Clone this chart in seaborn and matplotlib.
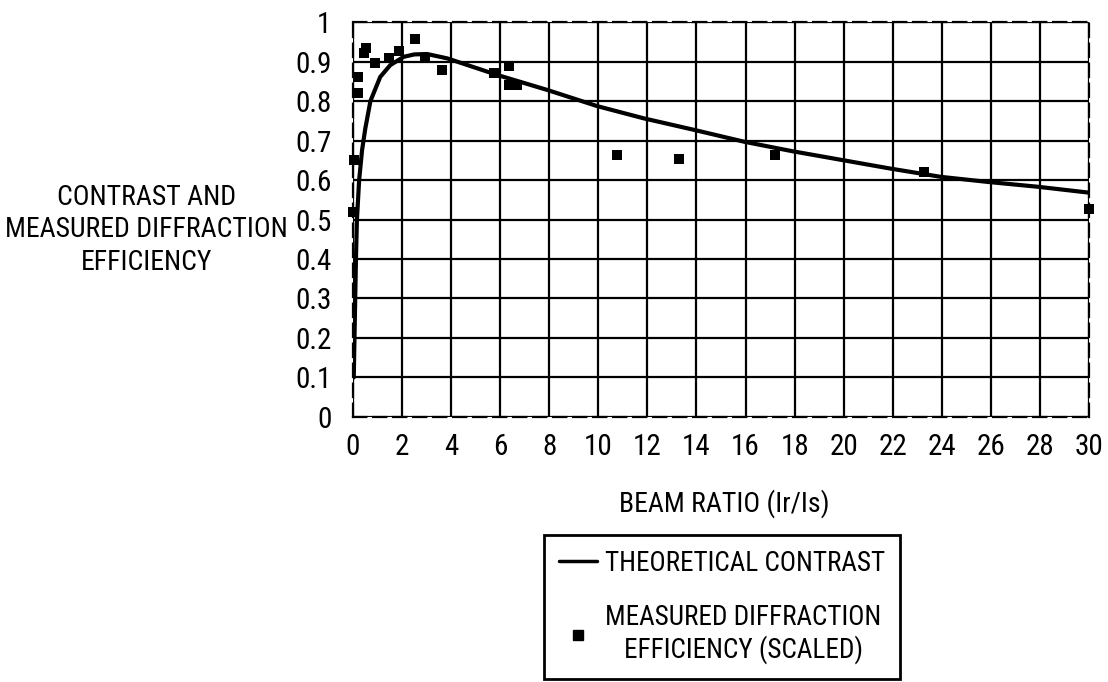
import matplotlib
matplotlib.use("Agg")
import matplotlib.pyplot as plt
import seaborn as sns
import pandas as pd
from matplotlib.lines import Line2D

sns.set_style("white")
plt.rcParams['font.family'] = ['Roboto Condensed', 'DejaVu Sans']
plt.rcParams['font.size'] = 21
plt.rcParams['text.color'] = 'black'
plt.rcParams['xtick.color'] = 'black'
plt.rcParams['ytick.color'] = 'black'

# theoretical contrast curve
curve_x = [0.03, 0.06, 0.09, 0.12, 0.16, 0.25, 0.37, 0.5, 0.71, 1.11, 1.52, 2.07, 2.5, 3.02,
           3.84, 5.88, 7.92, 9.96, 11.86, 13.9, 15.94, 17.9, 19.9, 21.9, 23.96, 25.9, 27.9, 30.0]
curve_y = [0.10, 0.20, 0.30, 0.40, 0.50, 0.60, 0.676, 0.73, 0.80, 0.861, 0.891, 0.912, 0.918, 0.919,
           0.908, 0.866, 0.828, 0.787, 0.756, 0.727, 0.697, 0.673, 0.651, 0.629, 0.608, 0.595, 0.583, 0.568]

# measured diffraction efficiency (scaled)
meas_x = [0.0, 0.05, 0.2, 0.2, 0.43, 0.54, 0.88, 1.45, 1.89, 2.54, 2.95, 3.63, 5.74, 6.35, 6.35,
          6.7, 10.75, 13.29, 17.2, 23.29, 30.0]
meas_y = [0.52, 0.651, 0.821, 0.861, 0.922, 0.933, 0.897, 0.91, 0.927, 0.956, 0.908, 0.878, 0.87,
          0.889, 0.84, 0.84, 0.663, 0.652, 0.663, 0.62, 0.526]

x_ticks = list(range(0, 31, 2))
y_ticks = [0, 0.1, 0.2, 0.3, 0.4, 0.5, 0.6, 0.7, 0.8, 0.9, 1]
y_tick_labels = ["0", "0.1", "0.2", "0.3", "0.4", "0.5", "0.6", "0.7", "0.8", "0.9", "1"]

curve = pd.DataFrame({"ratio": curve_x, "value": curve_y})
meas = pd.DataFrame({"ratio": meas_x, "value": meas_y})

fig = plt.figure(figsize=(11.08, 6.82), dpi=100)
ax = fig.add_axes([0.3186, 0.3886, 0.6642, 0.5791])

sns.lineplot(data=curve, x="ratio", y="value", color="black", linewidth=3, ax=ax, zorder=3)
sns.scatterplot(data=meas, x="ratio", y="value", color="black", marker="s", s=60,
                edgecolor="black", linewidth=0, ax=ax, zorder=4, clip_on=False)

ax.set_xlim(0, 30)
ax.set_ylim(0, 1)
ax.set_xticks(x_ticks)
ax.set_yticks(y_ticks)
ax.set_yticklabels(y_tick_labels)
ax.set_xlabel("")
ax.set_ylabel("")
ax.grid(True, color="black", linewidth=1.6)
ax.tick_params(direction="inout", length=9, width=1.5, colors="black", labelsize=21)
ax.tick_params(axis="y", pad=11)
ax.tick_params(axis="x", pad=7)
for s in ax.spines.values():
    s.set_linestyle((0, (6, 3)))
    s.set_linewidth(1.6)
    s.set_color("black")
    s.set_zorder(5)

fig.text(0.132, 0.663, "CONTRAST AND\nMEASURED DIFFRACTION\nEFFICIENCY", ha="center", va="center",
         multialignment="center", fontsize=20, linespacing=1.25)
fig.text(0.654, 0.262, "BEAM RATIO (Ir/Is)", ha="center", va="center", fontsize=20)

handles = [Line2D([0], [0], color="black", linewidth=2.5),
           Line2D([0], [0], color="black", marker="s", markersize=7, linestyle="none")]
labels = ["THEORETICAL CONTRAST", "MEASURED DIFFRACTION\nEFFICIENCY (SCALED)"]
leg = fig.legend(handles, labels, loc="upper left", bbox_to_anchor=(0.491, 0.2155),
                 borderaxespad=0, fancybox=False, edgecolor="black", framealpha=1, fontsize=19.5,
                 handlelength=1.4, handletextpad=0.3, borderpad=0.55, labelspacing=1.0)
leg.get_frame().set_linewidth(2)
for t in leg.get_texts():
    t.set_multialignment("center")

fig.savefig("out.png", dpi=100)
